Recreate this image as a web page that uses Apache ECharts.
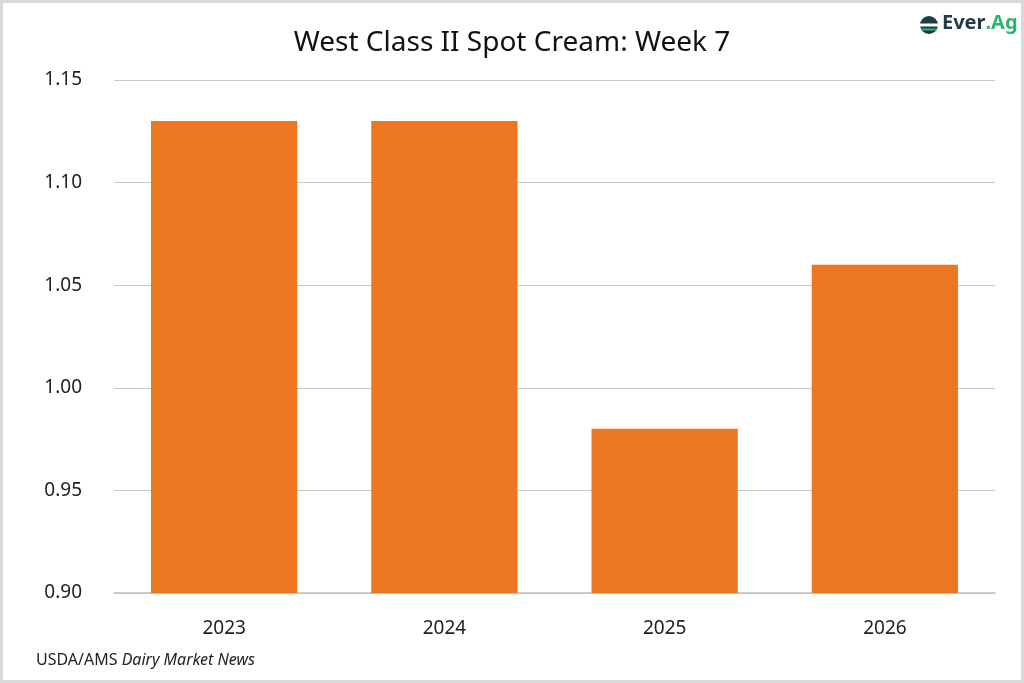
<!DOCTYPE html>
<html><head><meta charset="utf-8">
<script src="https://cdn.jsdelivr.net/npm/echarts@6/dist/echarts.min.js"></script>
<style>html,body{margin:0;padding:0;background:#fff}#c{width:1024px;height:683px}</style>
</head><body><div id="c"></div>
<script>
const categories = ['2023', '2024', '2025', '2026'];
const values = [1.13, 1.13, 0.98, 1.06];
const yTicks = { min: 0.90, max: 1.15, interval: 0.05 };
const titleText = 'West Class II Spot Cream: Week 7';
const FONT = 'Noto Sans';

const chart = echarts.init(document.getElementById('c'), null, { renderer: 'canvas' });
chart.setOption({
  backgroundColor: '#ffffff',
  animation: false,
  title: {
    text: titleText, left: 'center', top: 24,
    textStyle: { fontFamily: FONT, fontSize: 28, fontWeight: 'normal', color: '#111' }
  },
  grid: { left: 114, right: 29, top: 80, bottom: 90 },
  xAxis: {
    type: 'category', data: categories,
    axisLine: { lineStyle: { color: '#bfbfbf', width: 1.5 } },
    axisTick: { show: false },
    axisLabel: { fontFamily: FONT, fontSize: 19, color: '#222', margin: 26 }
  },
  yAxis: {
    type: 'value', min: yTicks.min, max: yTicks.max, interval: yTicks.interval,
    axisLine: { show: false }, axisTick: { show: false },
    splitLine: { lineStyle: { color: '#c8c8c8', width: 1.2 } },
    axisLabel: { fontFamily: FONT, fontSize: 19, color: '#222', margin: 32,
      formatter: v => v.toFixed(2) }
  },
  series: [{
    type: 'bar', data: values, barWidth: '66.4%',
    itemStyle: { color: '#ec7720' }
  }],
  graphic: [
    { type: 'rect', shape: { x: 1.5, y: 1.5, width: 1021, height: 680 },
      style: { fill: 'none', stroke: '#d9d9d9', lineWidth: 3 }, silent: true, z: 100 },
    { type: 'text', left: 36, top: 652,
      style: { text: '{a|USDA/AMS }{b|Dairy Market News}',
        rich: { a: { fontFamily: FONT, fontSize: 16, fill: '#222' },
                b: { fontFamily: FONT, fontSize: 16, fill: '#222', fontStyle: 'italic' } } } },
    { type: 'circle', shape: { cx: 929, cy: 25, r: 9 }, style: { fill: '#1f3b45' } },
    { type: 'rect', shape: { x: 920, y: 23.5, width: 18, height: 3 }, style: { fill: '#ffffff' } },
    { type: 'rect', shape: { x: 921, y: 28.5, width: 16, height: 2 }, style: { fill: '#2bb673' } },
    { type: 'text', left: 942, top: 13,
      style: { text: '{a|Ever}{b|.Ag}',
        rich: { a: { fontFamily: FONT, fontSize: 20, fontWeight: 'bold', fill: '#1f3b45' },
                b: { fontFamily: FONT, fontSize: 20, fontWeight: 'bold', fill: '#2bb673' } } } }
  ]
});
</script></body></html>
